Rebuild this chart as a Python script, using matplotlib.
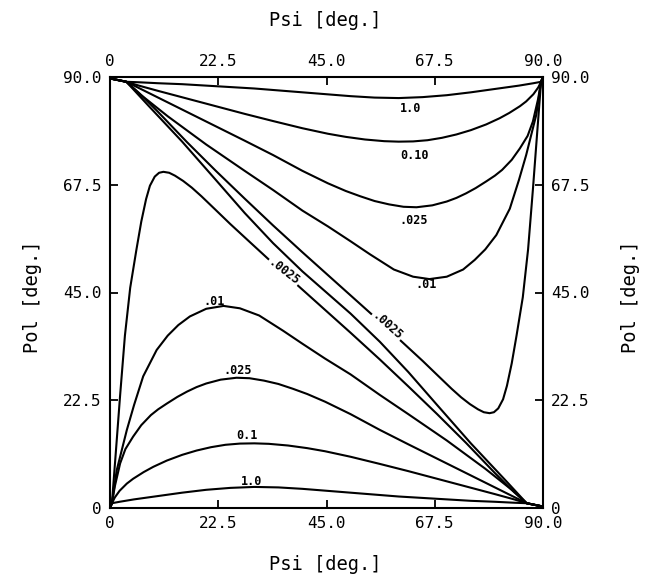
import matplotlib
matplotlib.use("Agg")
import matplotlib.pyplot as plt

# ---- data (Psi [deg], Pol [deg]) ----
# lower family
low_10_psi = [0, 0.4, 2, 5, 10, 15, 20, 25, 30, 35, 40, 45, 50, 55, 60, 65, 70, 75, 80, 84, 86.6, 90]
low_10_pol = [0, 1.0, 1.3, 1.8, 2.5, 3.2, 3.8, 4.2, 4.4, 4.3, 4.0, 3.6, 3.2, 2.8, 2.4, 2.1, 1.8, 1.5, 1.3, 1.1, 1.0, 0.3]

low_01_psi = [0, 0.4, 1, 2, 3.5, 4.8, 7, 9, 11.8, 15, 18, 21, 24, 27, 30, 33, 37, 41, 44.7, 50, 56.1, 62, 68, 74, 80, 84, 86.6, 90]
low_01_pol = [0, 1, 2.2, 3.6, 5.1, 6.1, 7.5, 8.6, 9.9, 11.1, 12.0, 12.7, 13.2, 13.45, 13.5, 13.4, 13.05, 12.5, 11.85, 10.7, 9.2, 7.7, 6.1, 4.5, 2.9, 1.8, 1.0, 0.3]

low_025_psi = [0, 0.4, 1, 2.1, 3.2, 4.8, 6.5, 8.5, 10, 11.8, 14, 16, 18, 20, 23, 26.3, 29, 32, 35, 38, 41, 44.7, 50, 56.1, 62, 68, 74, 80, 84, 86.6, 90]
low_025_pol = [0, 1, 4.5, 9.3, 12.3, 14.9, 17.3, 19.4, 20.6, 21.8, 23.2, 24.3, 25.25, 26.0, 26.8, 27.2, 27.1, 26.6, 25.9, 24.9, 23.8, 22.2, 19.6, 16.3, 13.3, 10.3, 7.3, 4.3, 2.3, 1.0, 0.3]

low_01b_psi = [0, 0.4, 1.4, 3.5, 5, 6.9, 9.7, 12, 14.2, 16.6, 20, 23.6, 27, 31, 36, 40, 44.7, 50, 56.1, 62, 70, 78, 84, 86.6, 90]
low_01b_pol = [0, 1, 7.9, 16.3, 21.5, 27.5, 33.0, 36.0, 38.2, 40.0, 41.6, 42.2, 41.7, 40.2, 37.0, 34.3, 31.2, 27.9, 23.6, 19.6, 14.1, 8.2, 3.4, 1.0, 0.3]

low_0025_psi = [0, 0.4, 1.2, 2.1, 3.1, 4.2, 5.5, 6.5, 7.5, 8.3, 9.3, 10.2, 11.1, 12.3, 13.5, 15.2, 17, 19, 21.8, 25, 29.1, 33, 36, 40, 45, 50, 56.1, 62, 68, 74, 80, 84, 86.6, 90]
low_0025_pol = [0, 1, 11.5, 23.5, 36, 46, 54, 59.8, 64.5, 67.3, 69.2, 70.0, 70.2, 70.0, 69.4, 68.3, 66.9, 65.1, 62.4, 59.3, 55.5, 51.9, 49.2, 45.6, 41.1, 36.6, 31.0, 25.4, 19.6, 13.6, 7.3, 3.3, 1.0, 0.3]

# upper family
up_10_psi = [0, 3.4, 6, 10, 15, 20, 25, 30, 35, 40, 45, 50, 55, 60, 65, 70, 75, 80, 85, 88, 89.6, 90]
up_10_pol = [89.7, 89.0, 88.9, 88.7, 88.5, 88.2, 87.9, 87.6, 87.2, 86.8, 86.4, 86.0, 85.7, 85.6, 85.8, 86.2, 86.8, 87.5, 88.2, 88.7, 89.0, 90]

up_010_psi = [0, 3.4, 6, 10, 16, 22, 28, 33.9, 40, 45.3, 49, 53, 57, 60, 63, 66, 69, 72, 75, 78.2, 81, 83, 85.2, 86.5, 88, 89, 89.6, 90]
up_010_pol = [89.7, 89, 88.2, 87.1, 85.5, 83.9, 82.3, 80.8, 79.3, 78.15, 77.5, 76.95, 76.6, 76.5, 76.55, 76.8, 77.3, 78.0, 78.9, 80.1, 81.4, 82.5, 83.9, 84.9, 86.4, 87.8, 89, 90]

up_025_psi = [0, 3.4, 6, 10, 16, 22, 28, 33.9, 40, 45.3, 49, 52, 55, 58, 61, 63.7, 67, 70, 72, 74, 76, 78.2, 80, 81.5, 83.5, 85.2, 86.8, 87.9, 89, 89.6, 90]
up_025_pol = [89.7, 89.0, 87.7, 85.7, 82.7, 79.7, 76.7, 73.7, 70.4, 67.8, 66.2, 65.1, 64.1, 63.4, 62.9, 62.8, 63.2, 64.0, 64.75, 65.7, 66.8, 68.2, 69.4, 70.6, 72.7, 75.1, 77.7, 80.7, 85.5, 89, 90]

up_01_psi = [0, 3.4, 6, 12, 20, 28, 33.9, 40, 45.3, 50, 54, 59, 63, 66.4, 70, 73.4, 75.8, 78, 80.3, 83.1, 85, 86.5, 88.6, 89.6, 90]
up_01_pol = [89.7, 89.0, 86.6, 81.8, 75.9, 70.4, 66.4, 62.1, 58.8, 55.7, 53.0, 49.8, 48.3, 47.8, 48.3, 49.8, 51.8, 54.0, 57.0, 62.5, 68.5, 73.7, 82.1, 89, 90]

up_0025_psi = [0, 3.4, 6, 10, 16, 22, 28, 33.9, 40, 45, 50, 54, 57, 60.9, 65, 68.2, 71, 73, 74.8, 76.5, 77.7, 78.9, 79.8, 80.7, 81.7, 82.5, 83.5, 84.5, 85.8, 86.9, 87.9, 88.8, 89.6, 90]
up_0025_pol = [89.7, 89.0, 86.7, 82.7, 76.4, 70.4, 64.6, 59.0, 53.4, 48.9, 44.4, 40.8, 38.1, 34.5, 30.7, 27.6, 24.9, 23.1, 21.7, 20.6, 20.0, 19.8, 20.0, 20.8, 22.7, 25.5, 30.2, 36.0, 44.0, 54.0, 66.5, 78.5, 89.0, 90]

# unlabeled line running corner to corner between the two .0025 curves
mid_psi = [0, 3.4, 8, 15, 22, 28, 33.9, 40, 45, 50, 56.1, 62, 68, 75, 82, 86.6, 90]
mid_pol = [89.7, 89.0, 84.0, 76.5, 68.5, 61.6, 55.3, 49.4, 45.0, 40.6, 34.7, 28.4, 21.5, 13.5, 6.0, 1.0, 0.3]

curves = [
    (low_10_psi, low_10_pol), (low_01_psi, low_01_pol), (low_025_psi, low_025_pol),
    (low_01b_psi, low_01b_pol), (low_0025_psi, low_0025_pol),
    (up_10_psi, up_10_pol), (up_010_psi, up_010_pol), (up_025_psi, up_025_pol),
    (up_01_psi, up_01_pol), (up_0025_psi, up_0025_pol), (mid_psi, mid_pol),
]

# curve labels: text, psi, pol, rotation, sits on the line (white box)
label_text = ["1.0", "0.1", ".025", ".01", ".0025", "1.0", "0.10", ".025", ".01", ".0025"]
label_psi = [29.5, 28.5, 26.6, 21.6, 36.0, 62.4, 63.2, 63.2, 65.7, 57.6]
label_pol = [5.6, 15.2, 28.8, 43.2, 49.2, 83.5, 73.7, 60.1, 46.6, 38.0]
label_rot = [0, 0, 0, 0, -38, 0, 0, 0, 0, -42]
label_boxed = [False, False, False, False, True, False, False, False, False, True]

ticks = [0, 22.5, 45.0, 67.5, 90.0]
tick_labels = ["0", "22.5", "45.0", "67.5", "90.0"]
x_title = "Psi [deg.]"
y_title = "Pol [deg.]"

font = "DejaVu Sans Mono"
plt.rcParams["font.family"] = [font, "DejaVu Sans"]

W, H = 657, 588
fig = plt.figure(figsize=(W / 100, H / 100), dpi=100)
ax = fig.add_axes([110 / W, 1 - 508 / H, 433 / W, 431 / H])

for xs, ys in curves:
    ax.plot(xs, ys, color="black", lw=1.5, solid_capstyle="round", solid_joinstyle="round")

for t, x, y, r, b in zip(label_text, label_psi, label_pol, label_rot, label_boxed):
    kw = {}
    if b:
        kw["bbox"] = dict(boxstyle="square,pad=0.1", fc="white", ec="none")
    ax.text(x, y, t, fontsize=8.5, fontweight="bold", ha="center", va="center",
            rotation=r, rotation_mode="anchor", zorder=5, **kw)

ax.set_xlim(0, 90)
ax.set_ylim(0, 90)
ax.set_xticks(ticks)
ax.set_yticks(ticks)
ax.set_xticklabels(tick_labels)
ax.set_yticklabels(tick_labels)
ax.tick_params(direction="in", length=6, width=1.3, labelsize=11.5,
               top=True, right=True, labeltop=True, labelright=True)
ax.tick_params(axis="x", pad=6)
ax.tick_params(axis="y", pad=6)
for s in ax.spines.values():
    s.set_linewidth(1.5)

fig.text(325 / W, 1 - 20 / H, x_title, fontsize=13.5, ha="center", va="center")
fig.text(325 / W, 1 - 565 / H, x_title, fontsize=13.5, ha="center", va="center")
fig.text(32 / W, 1 - 297 / H, y_title, fontsize=13.5, ha="center", va="center", rotation=90)
fig.text(630 / W, 1 - 297 / H, y_title, fontsize=13.5, ha="center", va="center", rotation=90)

fig.savefig("out.png", dpi=100)
